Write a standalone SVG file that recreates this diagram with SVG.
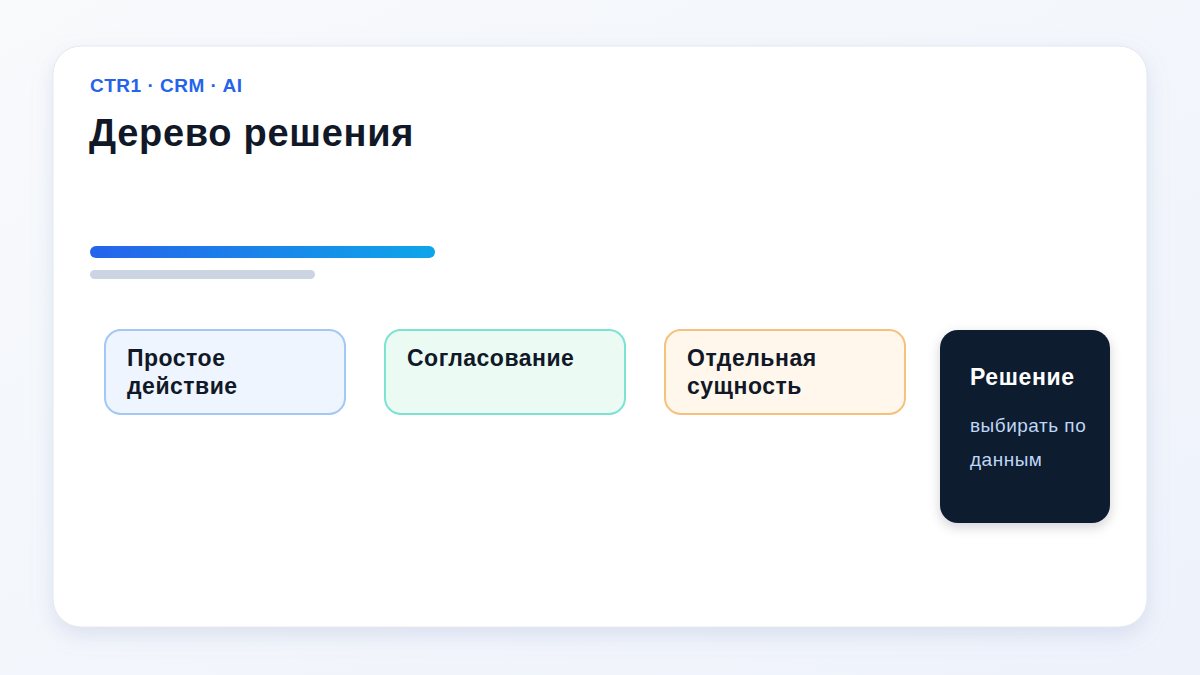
<svg xmlns="http://www.w3.org/2000/svg" width="1200" height="675" viewBox="0 0 1200 675">
<defs>
<linearGradient id="bg" x1="0" y1="0" x2="1" y2="1">
<stop offset="0" stop-color="#f8fafc"/>
<stop offset="1" stop-color="#eef2fb"/>
</linearGradient>
<linearGradient id="bar" x1="0" y1="0" x2="1" y2="0">
<stop offset="0" stop-color="#2563eb"/>
<stop offset="1" stop-color="#0ea5e9"/>
</linearGradient>
<filter id="sh" x="-10%" y="-10%" width="120%" height="130%">
<feDropShadow dx="0" dy="8" stdDeviation="10" flood-color="#94a3c8" flood-opacity="0.25"/>
</filter>
<filter id="sh2" x="-20%" y="-20%" width="140%" height="140%">
<feDropShadow dx="0" dy="4" stdDeviation="6" flood-color="#0f172a" flood-opacity="0.18"/>
</filter>
</defs>
<style>
text{font-family:"Liberation Sans",Arial,sans-serif}
.box{stroke-width:2}
.lbl{font-size:23px;font-weight:700;fill:#111827;letter-spacing:0.5px}
</style>
<rect width="1200" height="675" fill="url(#bg)"/>
<rect x="53" y="46" width="1094" height="581" rx="28" fill="#ffffff" stroke="#e2e8f0" stroke-width="1" filter="url(#sh)"/>
<text x="90" y="92" font-size="19" font-weight="700" fill="#2563eb" letter-spacing="0.5">CTR1 · CRM · AI</text>
<text x="89" y="146" font-size="38" font-weight="700" fill="#111827" letter-spacing="0.7">Дерево решения</text>
<rect x="90" y="246" width="345" height="12" rx="6" fill="url(#bar)"/>
<rect x="90" y="270" width="225" height="9" rx="4.5" fill="#cbd5e1"/>
<g id="connectors"></g>
<g id="node1">
<rect class="box" x="105" y="330" width="240" height="84" rx="16" fill="#eef5fe" stroke="#a3c8f4"/>
<text class="lbl" x="127" y="366">Простое</text>
<text class="lbl" x="127" y="394">действие</text>
</g>
<g id="node2">
<rect class="box" x="385" y="330" width="240" height="84" rx="16" fill="#ebfbf4" stroke="#7ce3d3"/>
<text class="lbl" x="407" y="366">Согласование</text>
</g>
<g id="node3">
<rect class="box" x="665" y="330" width="240" height="84" rx="16" fill="#fff7ec" stroke="#f6c17f"/>
<text class="lbl" x="687" y="366">Отдельная</text>
<text class="lbl" x="687" y="394">сущность</text>
</g>
<g id="node4">
<rect x="940" y="330" width="170" height="193" rx="18" fill="#111a2e" filter="url(#sh2)"/>
<text x="970" y="385" font-size="23" font-weight="700" fill="#ffffff" letter-spacing="0.6">Решение</text>
<text x="970" y="432" font-size="19" fill="#bfd6f6" letter-spacing="0.5">выбирать по</text>
<text x="970" y="466" font-size="19" fill="#bfd6f6" letter-spacing="0.5">данным</text>
</g>
</svg>
